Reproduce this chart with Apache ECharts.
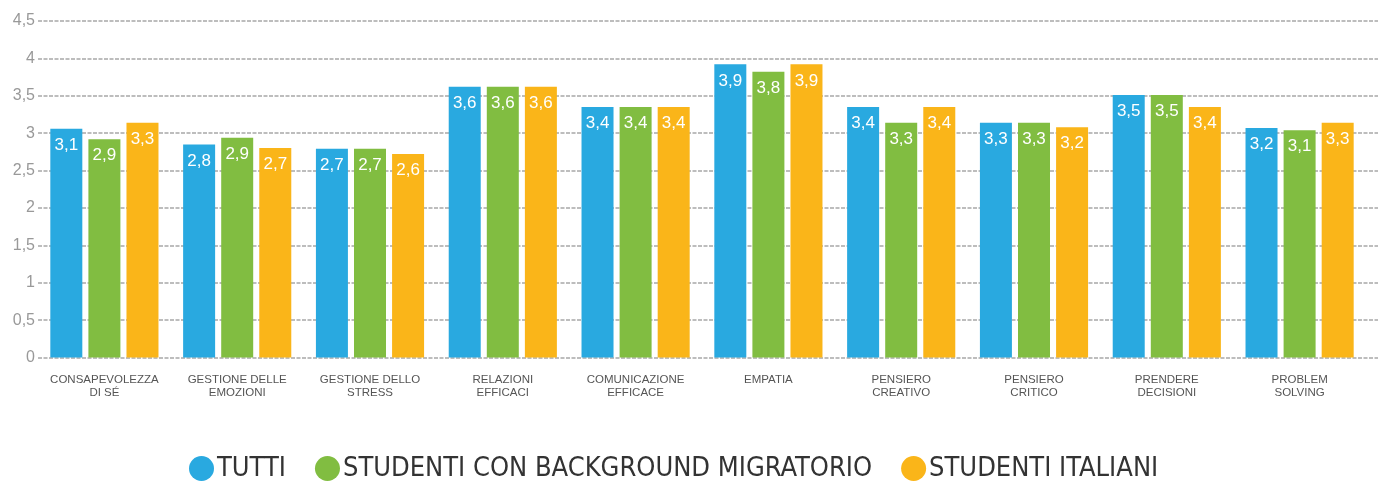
<!DOCTYPE html>
<html>
<head>
<meta charset="utf-8">
<script src="https://cdn.jsdelivr.net/npm/echarts@6/dist/echarts.min.js"></script>
<style>
  html, body { margin: 0; padding: 0; background: #fff; }
  #chart { width: 1378px; height: 481px; }
</style>
</head>
<body>
<div id="chart"></div>
<script>
// categorie (asse x)
const categories = [
  "CONSAPEVOLEZZA\nDI SÉ",
  "GESTIONE DELLE\nEMOZIONI",
  "GESTIONE DELLO\nSTRESS",
  "RELAZIONI\nEFFICACI",
  "COMUNICAZIONE\nEFFICACE",
  "EMPATIA",
  "PENSIERO\nCREATIVO",
  "PENSIERO\nCRITICO",
  "PRENDERE\nDECISIONI",
  "PROBLEM\nSOLVING"
];

// altezze delle barre
const tutti = [3.06, 2.85, 2.79, 3.62, 3.35, 3.92, 3.35, 3.14, 3.51, 3.07];
const migranti = [2.92, 2.94, 2.79, 3.62, 3.35, 3.82, 3.14, 3.14, 3.51, 3.04];
const italiani = [3.14, 2.80, 2.72, 3.62, 3.35, 3.92, 3.35, 3.08, 3.35, 3.14];

// etichette stampate sulle barre
const tuttiLabels = [3.1, 2.8, 2.7, 3.6, 3.4, 3.9, 3.4, 3.3, 3.5, 3.2];
const migrantiLabels = [2.9, 2.9, 2.7, 3.6, 3.4, 3.8, 3.3, 3.3, 3.5, 3.1];
const italianiLabels = [3.3, 2.7, 2.6, 3.6, 3.4, 3.9, 3.4, 3.2, 3.4, 3.3];

const yTicks = { min: 0, max: 4.5, interval: 0.5 };

function comma(v) {
  return String(v).replace(".", ",");
}

function serie(name, values, labels, color) {
  return {
    name: name,
    type: "bar",
    data: values,
    barWidth: 32,
    barGap: "19%",
    itemStyle: { color: color },
    label: {
      show: true,
      position: "insideTop",
      distance: 8,
      color: "#fff",
      fontSize: 17,
      fontFamily: "Liberation Sans, Arial, sans-serif",
      formatter: function (p) {
        return comma(labels[p.dataIndex].toFixed(1));
      }
    }
  };
}

let chart = echarts.init(document.getElementById("chart"));
chart.setOption({
  animation: false,
  backgroundColor: "#fff",
  // grid 0: barre; grid 1: solo linee di griglia, fino al bordo destro
  grid: [
    { left: 38, right: 12, top: 21, bottom: 123.5 },
    { left: 38, right: 0, top: 21, bottom: 123.5 }
  ],
  legend: {
    top: 450,
    left: 184,
    icon: "circle",
    itemWidth: 25,
    itemHeight: 25,
    itemGap: 29,
    textStyle: {
      color: "#333",
      fontSize: 27,
      fontFamily: "Liberation Sans Narrow, DejaVu Sans Condensed, sans-serif",
      padding: [0, 0, 0, -2]
    }
  },
  xAxis: [
    {
      type: "category",
      gridIndex: 0,
      data: categories,
      axisLine: { show: false },
      axisTick: { show: false },
      axisLabel: {
        color: "#555",
        fontSize: 11.5,
        lineHeight: 13,
        margin: 16,
        interval: 0,
        fontFamily: "Liberation Sans, Arial, sans-serif"
      }
    },
    { type: "value", gridIndex: 1, show: false }
  ],
  yAxis: [
    {
      type: "value",
      gridIndex: 0,
      min: yTicks.min,
      max: yTicks.max,
      interval: yTicks.interval,
      show: false,
      splitLine: { show: false }
    },
    {
      type: "value",
      gridIndex: 1,
      min: yTicks.min,
      max: yTicks.max,
      interval: yTicks.interval,
      axisLine: { show: false },
      axisTick: { show: false },
      axisLabel: {
        color: "#999",
        fontSize: 16,
        margin: 3,
        fontFamily: "Liberation Sans, Arial, sans-serif",
        formatter: function (v) { return comma(v); }
      },
      splitLine: {
        lineStyle: { color: "#a8a8a8", width: 1.5, type: [4, 1.5] }
      }
    }
  ],
  series: [
    serie("TUTTI", tutti, tuttiLabels, "#29a9e0"),
    serie("STUDENTI CON BACKGROUND MIGRATORIO", migranti, migrantiLabels, "#81bd41"),
    serie("STUDENTI ITALIANI", italiani, italianiLabels, "#fab519")
  ]
});
</script>
</body>
</html>
